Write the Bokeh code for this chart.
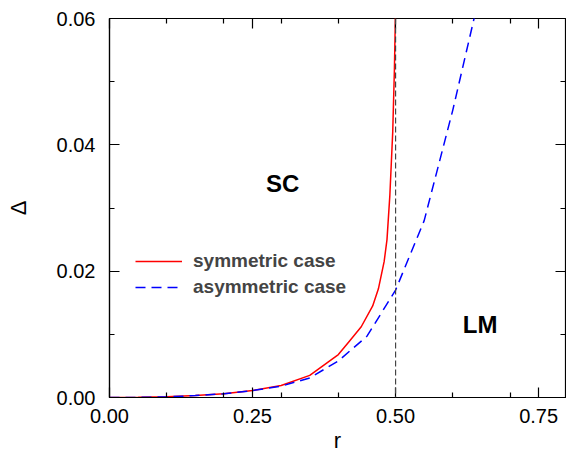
from bokeh.plotting import figure
from bokeh.models import (FixedTicker, NumeralTickFormatter, LinearAxis, Range1d,
                          Legend, LegendItem, Label, Span)
from bokeh.embed import file_html
from bokeh.resources import INLINE

# data
r_sym = [0.0, 0.05, 0.10, 0.15, 0.20, 0.25, 0.30, 0.35, 0.40, 0.42, 0.44, 0.46,
         0.47, 0.48, 0.485, 0.49, 0.495, 0.498, 0.50]
d_sym = [0.0, 0.00002, 0.0001, 0.0003, 0.0006, 0.0011, 0.0019, 0.0035, 0.0068,
         0.0090, 0.0112, 0.0145, 0.0172, 0.0215, 0.0250, 0.0320, 0.0420, 0.0520, 0.0620]
r_asym = [0.0, 0.05, 0.10, 0.15, 0.20, 0.25, 0.30, 0.35, 0.40, 0.45, 0.50, 0.55,
          0.60, 0.65]
d_asym = [0.0, 0.00002, 0.0001, 0.0003, 0.0006, 0.0011, 0.0018, 0.0031, 0.0058,
          0.0097, 0.0170, 0.0280, 0.0455, 0.0650]
r_crit = 0.5
x_major = [0.0, 0.25, 0.5, 0.75]
x_minor = [0.1, 0.2, 0.3, 0.4, 0.6, 0.7]
y_major = [0.0, 0.02, 0.04, 0.06]
y_minor = [0.01, 0.03, 0.05]
series_names = ["symmetric case", "asymmetric case"]
region_labels = ["SC", "LM"]
region_r = [0.3025, 0.6477]
region_d = [0.0338, 0.01157]

FONT = "Liberation Sans"

p = figure(width=566, height=455, output_backend="svg", toolbar_location=None,
           x_range=Range1d(0, 0.797), y_range=Range1d(0, 0.06),
           min_border_left=109, min_border_right=1, min_border_top=18,
           min_border_bottom=57)
p.grid.visible = False
p.outline_line_color = "black"
p.outline_line_width = 1.2
p.background_fill_color = "white"
p.border_fill_color = "white"

xt = FixedTicker(ticks=x_major, minor_ticks=x_minor)
yt = FixedTicker(ticks=y_major, minor_ticks=y_minor)

def style(ax, labels=True):
    ax.major_tick_in = 10
    ax.major_tick_out = 0
    ax.minor_tick_in = 5
    ax.minor_tick_out = 0
    ax.axis_line_color = "black"
    ax.axis_line_width = 1.2
    ax.major_tick_line_width = 1.2
    ax.minor_tick_line_width = 1.2
    if labels:
        ax.major_label_text_font = FONT
        ax.major_label_text_font_size = "20px"
        ax.major_label_text_color = "black"
        ax.axis_label_text_font = FONT
        ax.axis_label_text_font_size = "22px"
        ax.axis_label_text_font_style = "normal"
        ax.axis_label_text_color = "black"
    else:
        ax.major_label_text_font_size = "1px"
        ax.major_label_text_color = None
        ax.major_label_standoff = 0
        ax.axis_line_color = None

p.xaxis.ticker = xt
p.yaxis.ticker = yt
p.xaxis.formatter = NumeralTickFormatter(format="0.00")
p.yaxis.formatter = NumeralTickFormatter(format="0.00")
p.xaxis.axis_label = "r"
p.yaxis.axis_label = "Δ"
style(p.xaxis[0])
style(p.yaxis[0])
p.xaxis.major_label_standoff = 11
p.yaxis.major_label_standoff = 14
p.xaxis.axis_label_standoff = 2
p.yaxis.axis_label_standoff = 23

top = LinearAxis(ticker=xt)
right = LinearAxis(ticker=yt)
style(top, labels=False)
style(right, labels=False)
p.add_layout(top, "above")
p.add_layout(right, "right")

vline = Span(location=r_crit, dimension="height", line_color="#444444",
             line_dash="6 3", line_width=1.2)
p.add_layout(vline)

l1 = p.line(r_sym, d_sym, line_color="red", line_width=1.5)
l2 = p.line(r_asym, d_asym, line_color="blue", line_width=1.5, line_dash="10 6")

legend = Legend(items=[LegendItem(label=series_names[0], renderers=[l1]),
                       LegendItem(label=series_names[1], renderers=[l2])],
                location=(26, 99), glyph_width=47, glyph_height=20,
                label_height=20, spacing=4, padding=0, margin=0,
                label_standoff=11, border_line_color=None,
                background_fill_alpha=0,
                label_text_font=FONT, label_text_font_size="19px",
                label_text_font_style="bold")
p.add_layout(legend, "center")

for txt, rx, dy in zip(region_labels, region_r, region_d):
    p.add_layout(Label(x=rx, y=dy, text=txt, text_font=FONT, text_font_size="24px",
                       text_font_style="bold", text_align="center",
                       text_baseline="middle", text_color="black"))

open("out.html", "w").write(file_html(p, INLINE))
